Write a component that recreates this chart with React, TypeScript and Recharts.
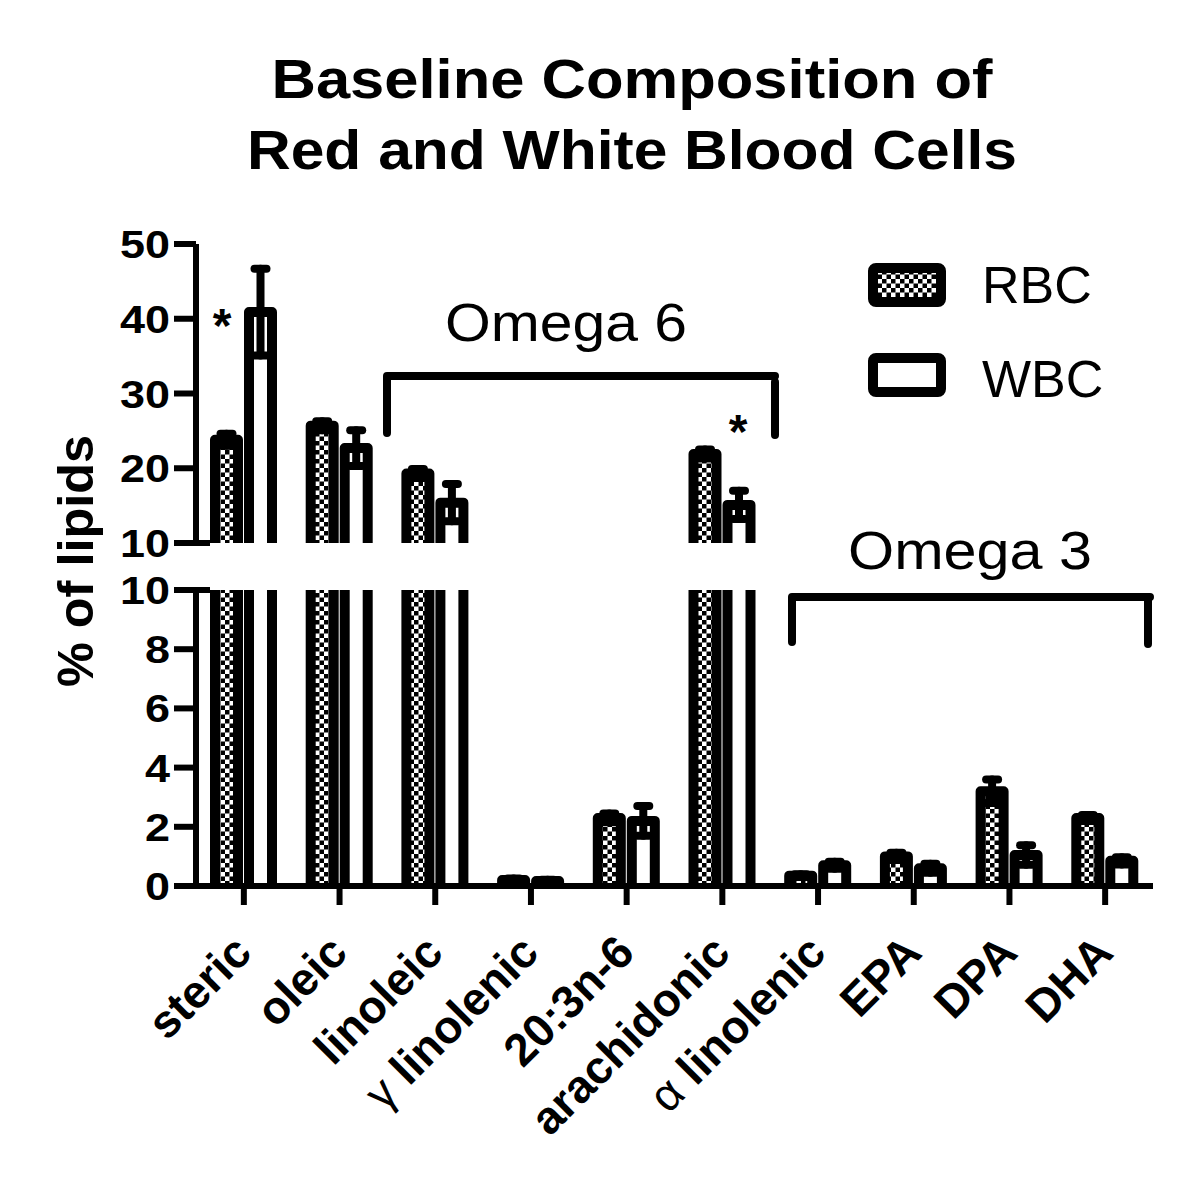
import React from 'react';
import { Bar, BarChart, ErrorBar, XAxis, YAxis } from 'recharts';

const FONT = '"Liberation Sans", Arial, sans-serif';

// lipid categories along the x axis
const categories = [
  'steric',
  'oleic',
  'linoleic',
  'γ linolenic',
  '20:3n-6',
  'arachidonic',
  'α linolenic',
  'EPA',
  'DPA',
  'DHA',
];

// % of lipids, mean and error
const rbc = [23.8, 25.7, 19.3, 0.2, 2.3, 21.9, 0.35, 1.0, 3.2, 2.3];
const rbcErr = [0.8, 0.6, 0.6, 0.05, 0.15, 0.6, 0.05, 0.12, 0.4, 0.1];
const wbc = [40.9, 22.7, 15.4, 0.17, 2.2, 15.1, 0.7, 0.6, 1.05, 0.85];
const wbcErr = [5.8, 2.4, 2.5, 0.04, 0.5, 1.9, 0.12, 0.15, 0.33, 0.12];

const upperTicks = [10, 20, 30, 40, 50];
const lowerTicks = [0, 2, 4, 6, 8, 10];

const BREAK = 10;

// upper segment (10-50) only shows values above the break
const upperData = categories.map((name, i) => ({
  name,
  rbc: rbc[i] > BREAK ? rbc[i] : null,
  rbcErr: rbc[i] > BREAK ? rbcErr[i] : null,
  wbc: wbc[i] > BREAK ? wbc[i] : null,
  wbcErr: wbc[i] > BREAK ? wbcErr[i] : null,
}));

// lower segment (0-10) shows everything, tall bars get clipped
const lowerData = categories.map((name, i) => ({
  name,
  rbc: rbc[i],
  rbcErr: rbc[i] > BREAK ? null : rbcErr[i],
  wbc: wbc[i],
  wbcErr: wbc[i] > BREAK ? null : wbcErr[i],
}));

// bar with thick outline, open at the bottom
const OpenBar = (props: any) => {
  const { x, y, width, height, fill } = props;
  if (!height || height <= 0) return null;
  const bottom = y + height + 8;
  return (
    <g>
      <rect x={x} y={y} width={width} height={height + 8} fill={fill} />
      <path
        d={`M${x},${bottom}L${x},${y}L${x + width},${y}L${x + width},${bottom}`}
        fill="none"
        stroke="#000"
        strokeWidth={10}
        strokeLinejoin="round"
      />
    </g>
  );
};

const YTick = (props: any) => {
  const { x, y, payload } = props;
  const v = String(payload.value);
  const axisX = x + 26;
  return (
    <g>
      <text
        x={x}
        y={y}
        dy={14}
        textAnchor="end"
        fontFamily={FONT}
        fontWeight="bold"
        fontSize={38}
        textLength={v.length * 25}
        lengthAdjust="spacingAndGlyphs"
        fill="#000"
      >
        {v}
      </text>
      {payload.value === BREAK && (
        <line x1={axisX} x2={axisX + 14} y1={y} y2={y} stroke="#000" strokeWidth={6} />
      )}
    </g>
  );
};

const XTick = (props: any) => {
  const { x, y, payload } = props;
  const label: string = payload.value;
  const greek = label.startsWith('γ') || label.startsWith('α');
  const ax = x + 10;
  const ay = y + 50;
  return (
    <text
      x={ax}
      y={ay}
      textAnchor="end"
      transform={`rotate(-45, ${ax}, ${ay})`}
      fontFamily={FONT}
      fontWeight="bold"
      fontSize={46}
      fill="#000"
    >
      {greek ? (
        <>
          <tspan fontWeight="normal">{label[0]}</tspan>
          {label.slice(1)}
        </>
      ) : (
        label
      )}
    </text>
  );
};

const bars = (
  [
    <Bar key="rbc" dataKey="rbc" name="RBC" fill="url(#checker)" barSize={23} shape={<OpenBar />} isAnimationActive={false}>
      <ErrorBar dataKey="rbcErr" width={6} stroke="#000" strokeWidth={8} strokeLinecap="round" direction="y" />
    </Bar>,
    <Bar key="wbc" dataKey="wbc" name="WBC" fill="#fff" barSize={23} shape={<OpenBar />} isAnimationActive={false}>
      <ErrorBar dataKey="wbcErr" width={6} stroke="#000" strokeWidth={8} strokeLinecap="round" direction="y" />
    </Bar>,
  ]
);

const axisLine = { stroke: '#000', strokeWidth: 6 };

export default function App() {
  return (
    <div style={{ position: 'absolute', left: 0, top: 0, width: 1200, height: 1181, background: '#fff' }}>
      <svg width={0} height={0} style={{ position: 'absolute' }}>
        <defs>
          <pattern id="checker" patternUnits="userSpaceOnUse" width={9} height={9}>
            <rect width={9} height={9} fill="#fff" />
            <rect width={4.5} height={4.5} fill="#000" />
            <rect x={4.5} y={4.5} width={4.5} height={4.5} fill="#000" />
          </pattern>
        </defs>
      </svg>

      <div style={{ position: 'absolute', left: 0, top: 0 }}>
        <BarChart
          width={1200}
          height={566}
          data={upperData}
          barGap={11}
          margin={{ top: 244, right: 47, bottom: 23, left: 116 }}
        >
          <XAxis dataKey="name" hide />
          <YAxis
            width={80}
            domain={[10, 50]}
            ticks={upperTicks}
            allowDataOverflow
            axisLine={axisLine}
            tickLine={axisLine}
            tickSize={22}
            tickMargin={4}
            tick={<YTick />}
          />
          {bars}
        </BarChart>
      </div>

      <div style={{ position: 'absolute', left: 0, top: 566 }}>
        <BarChart
          width={1200}
          height={615}
          data={lowerData}
          barGap={11}
          margin={{ top: 24, right: 47, bottom: 45, left: 116 }}
        >
          <XAxis
            dataKey="name"
            height={250}
            interval={0}
            axisLine={axisLine}
            tickLine={axisLine}
            tickSize={19}
            tickMargin={0}
            tick={<XTick />}
          />
          <YAxis
            width={80}
            domain={[0, 10]}
            ticks={lowerTicks}
            allowDataOverflow
            axisLine={axisLine}
            tickLine={axisLine}
            tickSize={22}
            tickMargin={4}
            tick={<YTick />}
          />
          {bars}
        </BarChart>
      </div>

      <svg
        width={1200}
        height={1181}
        style={{ position: 'absolute', left: 0, top: 0, pointerEvents: 'none' }}
        fontFamily={FONT}
      >
        <text x={632} y={98} textAnchor="middle" fontSize={56} fontWeight="bold" textLength={721} lengthAdjust="spacingAndGlyphs">
          Baseline Composition of
        </text>
        <text x={632} y={169} textAnchor="middle" fontSize={56} fontWeight="bold" textLength={770} lengthAdjust="spacingAndGlyphs">
          Red and White Blood Cells
        </text>

        <text
          x={93}
          y={561}
          textAnchor="middle"
          fontSize={50}
          fontWeight="bold"
          textLength={252}
          lengthAdjust="spacingAndGlyphs"
          transform="rotate(-90, 93, 561)"
        >
          % of lipids
        </text>

        {/* brackets */}
        <path d="M387,433V376H775M775,382V435" fill="none" stroke="#000" strokeWidth={8} strokeLinecap="round" strokeLinejoin="round" />
        <text x={566} y={341} textAnchor="middle" fontSize={54} textLength={242} lengthAdjust="spacingAndGlyphs">
          Omega 6
        </text>
        <path d="M792,642V597H1150M1148,600V644" fill="none" stroke="#000" strokeWidth={8} strokeLinecap="round" strokeLinejoin="round" />
        <text x={970} y={569} textAnchor="middle" fontSize={54} textLength={244} lengthAdjust="spacingAndGlyphs">
          Omega 3
        </text>

        {/* significance */}
        <text x={222} y={342} textAnchor="middle" fontSize={48} fontWeight="bold">*</text>
        <text x={738} y={448} textAnchor="middle" fontSize={48} fontWeight="bold">*</text>

        {/* legend */}
        <rect x={873} y={268} width={68} height={34} rx={3} fill="url(#checker)" stroke="#000" strokeWidth={10} />
        <text x={982} y={303} fontSize={52}>RBC</text>
        <rect x={873} y={358} width={68} height={34} rx={3} fill="#fff" stroke="#000" strokeWidth={10} />
        <text x={982} y={397} fontSize={52}>WBC</text>
      </svg>
    </div>
  );
}
